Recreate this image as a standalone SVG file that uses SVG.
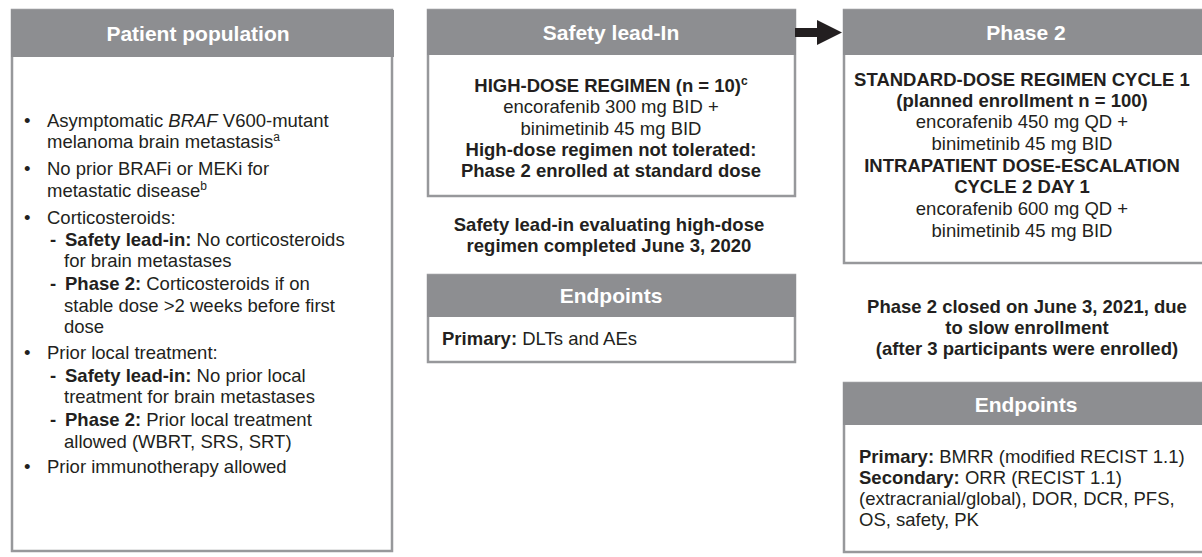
<svg xmlns="http://www.w3.org/2000/svg" width="1202" height="557" viewBox="0 0 1202 557">
<style>
.box{fill:#fff;stroke:#97989b;stroke-width:2.5}
.hdr{fill:#8d8e91}
.ht{font-family:"Liberation Sans",Arial,sans-serif;font-size:21px;font-weight:bold;fill:#fff;text-anchor:middle}
.t{font-family:"Liberation Sans",Arial,sans-serif;font-size:18.5px;fill:#231f20}
.c{text-anchor:middle}
.b{font-weight:bold}
.i{font-style:italic}
.sup{font-size:12px}
</style>
<defs>
<marker id="ah" markerUnits="userSpaceOnUse" markerWidth="26" markerHeight="26" refX="0" refY="12.5" orient="auto">
<path d="M0,0 L25,12.5 L0,25 Z" fill="#231f20"/>
</marker>
</defs>
<rect width="1202" height="557" fill="#fff"/>

<g id="patient-population">
<rect class="box" x="12" y="10" width="380" height="541"/>
<rect class="hdr" x="11" y="10" width="383" height="47"/>
<text class="ht" x="198" y="41">Patient population</text>
<text class="t" x="24" y="127">•</text>
<text class="t" x="47" y="127">Asymptomatic <tspan class="i">BRAF</tspan> V600-mutant</text>
<text class="t" x="47" y="148">melanoma brain metastasis<tspan class="sup" dy="-7">a</tspan></text>
<text class="t" x="24" y="175">•</text>
<text class="t" x="47" y="175">No prior BRAFi or MEKi for</text>
<text class="t" x="47" y="197">metastatic disease<tspan class="sup" dy="-7">b</tspan></text>
<text class="t" x="24" y="224">•</text>
<text class="t" x="47" y="224">Corticosteroids:</text>
<text class="t b" x="50" y="246">-</text>
<text class="t" x="65" y="246"><tspan class="b">Safety lead-in:</tspan> No corticosteroids</text>
<text class="t" x="64" y="267">for brain metastases</text>
<text class="t b" x="50" y="290">-</text>
<text class="t" x="65" y="290"><tspan class="b">Phase 2:</tspan> Corticosteroids if on</text>
<text class="t" x="64" y="312">stable dose &gt;2 weeks before first</text>
<text class="t" x="64" y="333">dose</text>
<text class="t" x="24" y="359">•</text>
<text class="t" x="47" y="359">Prior local treatment:</text>
<text class="t b" x="50" y="382">-</text>
<text class="t" x="65" y="382"><tspan class="b">Safety lead-in:</tspan> No prior local</text>
<text class="t" x="64" y="403">treatment for brain metastases</text>
<text class="t b" x="50" y="426">-</text>
<text class="t" x="65" y="426"><tspan class="b">Phase 2:</tspan> Prior local treatment</text>
<text class="t" x="64" y="448">allowed (WBRT, SRS, SRT)</text>
<text class="t" x="24" y="473">•</text>
<text class="t" x="47" y="473">Prior immunotherapy allowed</text>
</g>

<g id="safety-lead-in">
<rect class="box" x="428" y="10" width="367" height="186"/>
<rect class="hdr" x="427" y="10" width="369" height="45"/>
<text class="ht" x="611" y="40">Safety lead-In</text>
<text class="t c b" x="611" y="92">HIGH-DOSE REGIMEN (n = 10)<tspan class="sup" dy="-7">c</tspan></text>
<text class="t c" x="611" y="113">encorafenib 300 mg BID +</text>
<text class="t c" x="611" y="135">binimetinib 45 mg BID</text>
<text class="t c b" x="611" y="156">High-dose regimen not tolerated:</text>
<text class="t c b" x="611" y="177">Phase 2 enrolled at standard dose</text>
</g>

<g id="safety-note">
<text class="t c b" x="609" y="231">Safety lead-in evaluating high-dose</text>
<text class="t c b" x="609" y="252">regimen completed June 3, 2020</text>
</g>

<g id="endpoints-safety">
<rect class="box" x="428" y="275" width="367" height="87"/>
<rect class="hdr" x="427" y="275" width="369" height="42"/>
<text class="ht" x="611" y="303">Endpoints</text>
<text class="t" x="442" y="345"><tspan class="b">Primary:</tspan> DLTs and AEs</text>
</g>

<g id="phase-2">
<rect class="box" x="844" y="10" width="362" height="253"/>
<rect class="hdr" x="843" y="10" width="362" height="45"/>
<text class="ht" x="1026" y="40">Phase 2</text>
<text class="t c b" x="1022" y="86">STANDARD-DOSE REGIMEN CYCLE 1</text>
<text class="t c b" x="1022" y="107">(planned enrollment n = 100)</text>
<text class="t c" x="1022" y="128">encorafenib 450 mg QD +</text>
<text class="t c" x="1022" y="150">binimetinib 45 mg BID</text>
<text class="t c b" x="1022" y="172">INTRAPATIENT DOSE-ESCALATION</text>
<text class="t c b" x="1022" y="193">CYCLE 2 DAY 1</text>
<text class="t c" x="1022" y="215">encorafenib 600 mg QD +</text>
<text class="t c" x="1022" y="237">binimetinib 45 mg BID</text>
</g>

<g id="phase-2-note">
<text class="t c b" x="1027" y="313">Phase 2 closed on June 3, 2021, due</text>
<text class="t c b" x="1027" y="334">to slow enrollment</text>
<text class="t c b" x="1027" y="355">(after 3 participants were enrolled)</text>
</g>

<g id="endpoints-phase-2">
<rect class="box" x="844" y="383" width="362" height="169"/>
<rect class="hdr" x="843" y="383" width="362" height="42"/>
<text class="ht" x="1026" y="412">Endpoints</text>
<text class="t" x="859" y="463"><tspan class="b">Primary:</tspan> BMRR (modified RECIST 1.1)</text>
<text class="t" x="859" y="484"><tspan class="b">Secondary:</tspan> ORR (RECIST 1.1)</text>
<text class="t" x="859" y="505">(extracranial/global), DOR, DCR, PFS,</text>
<text class="t" x="859" y="526">OS, safety, PK</text>
</g>

<g id="connectors">
<line x1="795" y1="32.5" x2="817" y2="32.5" stroke="#231f20" stroke-width="9" marker-end="url(#ah)"/>
</g>
</svg>
